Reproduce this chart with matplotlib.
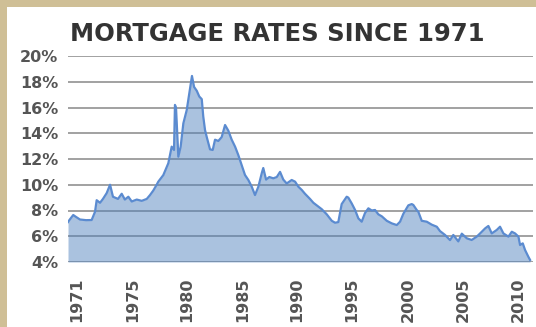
import matplotlib
matplotlib.use("Agg")
import matplotlib.pyplot as plt
from matplotlib.patches import Rectangle

# 30-year fixed mortgage rate (%), decimal years
years = [
    1971.25, 1971.42, 1971.70, 1971.94, 1972.28, 1972.80, 1973.28, 1973.57, 1973.71, 1974.00,
    1974.25, 1974.57, 1974.86, 1975.11, 1975.54, 1975.86, 1976.13, 1976.43, 1976.72, 1977.15,
    1977.58, 1978.01, 1978.29, 1978.57, 1978.86, 1979.00, 1979.43, 1979.86, 1980.15, 1980.35,
    1980.43, 1980.52, 1980.72, 1980.92, 1981.15, 1981.44, 1981.66, 1981.89, 1982.07, 1982.30,
    1982.52, 1982.73, 1982.86, 1983.01, 1983.16, 1983.44, 1983.67, 1983.87, 1984.15, 1984.44,
    1984.73, 1985.01, 1985.30, 1985.59, 1985.87, 1986.16, 1986.44, 1986.73, 1987.02, 1987.30,
    1987.59, 1987.88, 1988.01, 1988.25, 1988.53, 1988.87, 1989.17, 1989.45, 1989.73, 1990.02,
    1990.45, 1990.74, 1991.02, 1991.31, 1991.59, 1992.02, 1992.31, 1992.74, 1993.03, 1993.46,
    1993.89, 1994.17, 1994.45, 1994.74, 1995.17, 1995.31, 1995.60, 1995.89, 1996.17, 1996.46,
    1996.74, 1997.03, 1997.32, 1997.60, 1997.89, 1998.18, 1998.61, 1999.04, 1999.47, 1999.75,
    2000.03, 2000.46, 2000.75, 2000.89, 2001.18, 2001.32, 2001.61, 2002.04, 2002.47, 2002.90,
    2003.18, 2003.61, 2004.04, 2004.32, 2004.75, 2005.05, 2005.48, 2005.90, 2006.33, 2006.62,
    2007.05, 2007.33, 2007.62, 2008.05, 2008.33, 2008.62, 2009.05, 2009.34, 2009.62, 2009.91,
    2010.05, 2010.28, 2010.48, 2010.76, 2010.91,
]
rates = [
    7.10, 7.32, 7.65, 7.50, 7.30, 7.25, 7.26, 7.90, 8.80, 8.60,
    8.90, 9.35, 10.00, 9.07, 8.90, 9.30, 8.85, 9.07, 8.70, 8.85,
    8.75, 8.90, 9.20, 9.55, 10.00, 10.24, 10.75, 11.67, 12.96, 12.70,
    16.20, 16.00, 12.18, 12.96, 14.77, 15.80, 17.10, 18.45, 17.60, 17.30,
    16.85, 16.65, 15.30, 14.25, 13.70, 12.75, 12.70, 13.50, 13.40, 13.70,
    14.64, 14.20, 13.50, 12.96, 12.30, 11.53, 10.76, 10.37, 9.85, 9.20,
    9.85, 10.90, 11.30, 10.40, 10.60, 10.50, 10.60, 11.00, 10.40, 10.10,
    10.37, 10.24, 9.85, 9.60, 9.30, 8.90, 8.60, 8.30, 8.10, 7.70,
    7.20, 7.05, 7.10, 8.50, 9.07, 9.00, 8.55, 8.04, 7.39, 7.13,
    7.80, 8.17, 8.00, 8.04, 7.70, 7.55, 7.20, 7.00, 6.87, 7.13,
    7.74, 8.40, 8.50, 8.43, 8.04, 7.90, 7.20, 7.13, 6.90, 6.74,
    6.40, 6.10, 5.70, 6.10, 5.60, 6.20, 5.84, 5.71, 5.97, 6.22,
    6.61, 6.80, 6.22, 6.49, 6.74, 6.22, 5.97, 6.35, 6.22, 5.97,
    5.32, 5.45, 4.93, 4.41, 4.16,
]

year_labels = ["1971", "1975", "1980", "1985", "1990", "1995", "2000", "2005", "2010"]
label_pos = [1972.02, 1976.83, 1981.46, 1986.27, 1990.91, 1995.63, 2000.48, 2005.15, 2009.88]
y_ticks = [4, 6, 8, 10, 12, 14, 16, 18, 20]

W, H = 536, 327
fig = plt.figure(figsize=(W / 100, H / 100), dpi=100)
fig.patch.set_facecolor("#cfbf96")
# white card inside the tan frame
fig.patches.append(Rectangle((7 / W, 0), 1, 1 - 7 / H, transform=fig.transFigure,
                             facecolor="white", edgecolor="none", zorder=-10))

ax = fig.add_axes([68 / W, 65 / H, 465 / W, 206 / H])
ax.set_facecolor("none")

ax.fill_between(years, 4, rates, color="#4f81bd", alpha=0.48, linewidth=0, zorder=2)
ax.plot(years, rates, color="#5b8bd0", linewidth=1.6, zorder=3)

ax.set_xlim(1971.25, 2011.16)
ax.set_ylim(4, 20)
ax.set_yticks(y_ticks)
ax.set_yticklabels([f"{v}%" for v in y_ticks])
ax.grid(axis="y", color="#9a9a9a", linewidth=1.3, zorder=1)
ax.set_axisbelow(True)
ax.set_xticks(label_pos)
ax.set_xticklabels(year_labels, rotation=90, va="top", ha="center")

for s in ax.spines.values():
    s.set_visible(False)
ax.tick_params(axis="both", length=0)
ax.tick_params(axis="y", pad=7)
ax.tick_params(axis="x", pad=11)
for lab in ax.get_yticklabels() + ax.get_xticklabels():
    lab.set_fontsize(11.5)
    lab.set_fontweight("bold")
    lab.set_color("#555555")
    lab.set_family("DejaVu Sans")

fig.text(70 / W, 1 - 34 / H, "MORTGAGE RATES SINCE 1971", fontsize=17.5,
         fontweight="bold", color="#333333", va="center", ha="left",
         family="DejaVu Sans")

fig.savefig("out.png", dpi=100, facecolor=fig.get_facecolor())
